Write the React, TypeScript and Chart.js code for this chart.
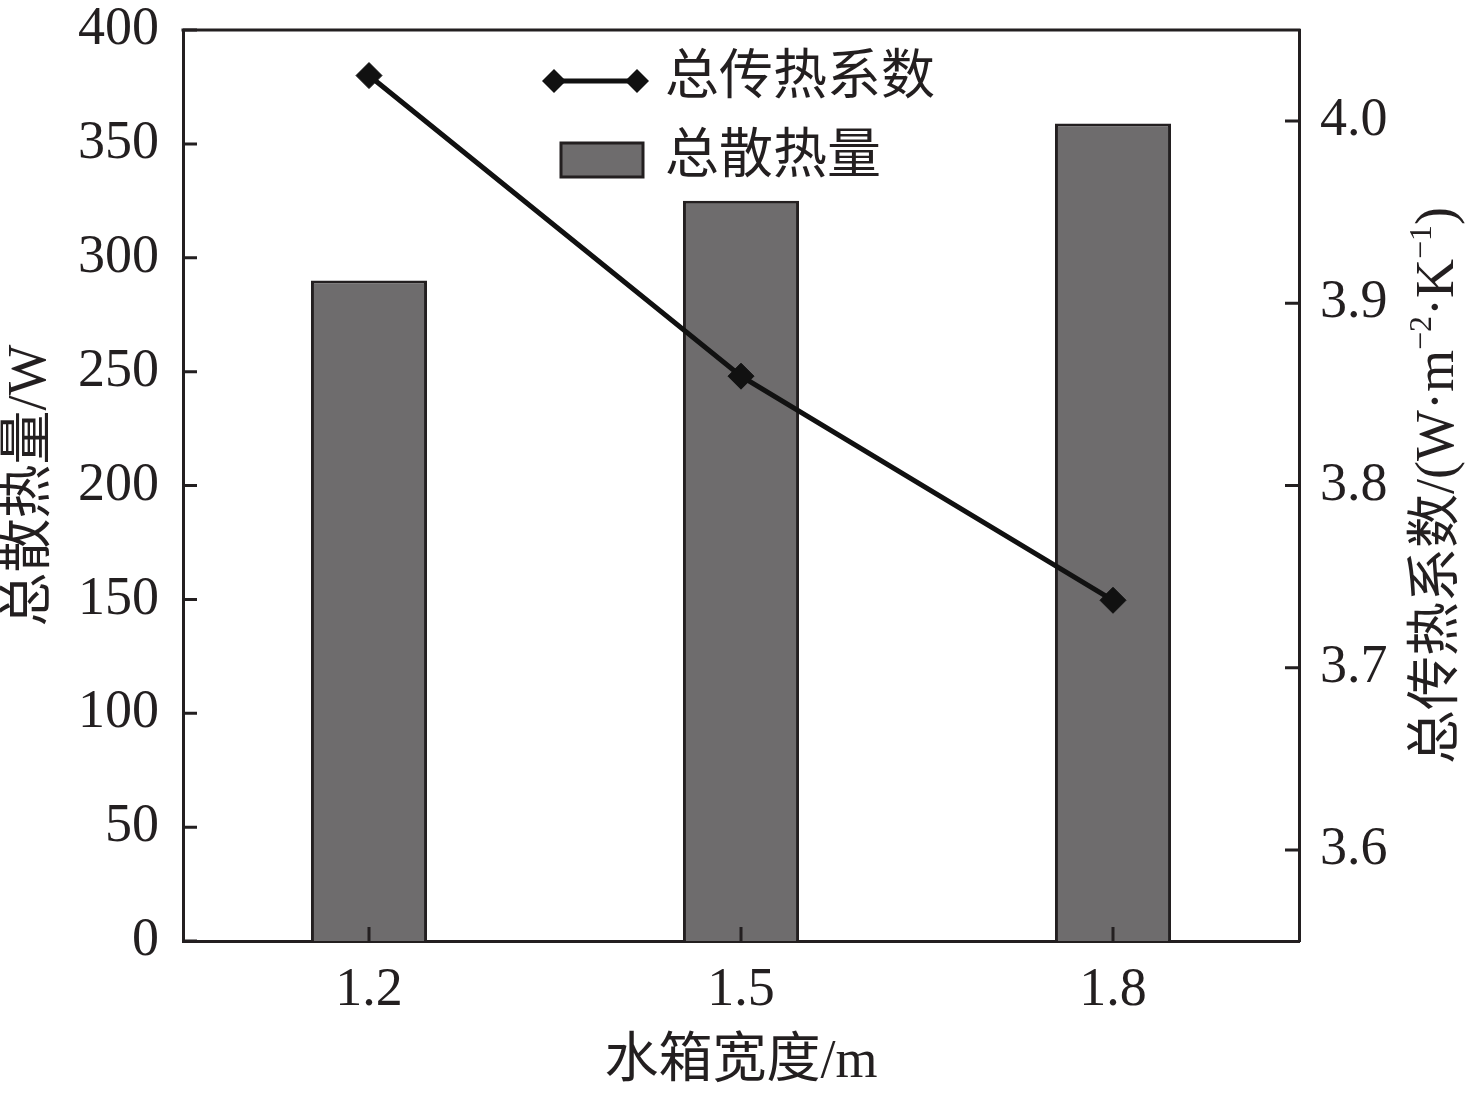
import React, { useEffect, useRef } from 'react';
import { Chart, registerables } from 'chart.js';

Chart.register(...registerables);

// données
const categories = ['1.2', '1.5', '1.8'];
const heatLoss = [290, 325, 359]; // 总散热量 (W)
const heatCoef = [4.025, 3.86, 3.737]; // 总传热系数
const leftTicks = [0, 50, 100, 150, 200, 250, 300, 350, 400];
const rightTicks = [3.6, 3.7, 3.8, 3.9, 4.0];

const FONT = '"Liberation Serif", "Noto Sans CJK SC", serif';
const INK = '#231f20';
const BAR = '#6e6c6d';

const drawDiamond = (ctx: CanvasRenderingContext2D, x: number, y: number, r: number) => {
    ctx.beginPath();
    ctx.moveTo(x, y - r);
    ctx.lineTo(x + r, y);
    ctx.lineTo(x, y + r);
    ctx.lineTo(x - r, y);
    ctx.closePath();
    ctx.fill();
};

const extrasPlugin = {
    id: 'extras',
    afterDraw(chart: any) {
        const ctx: CanvasRenderingContext2D = chart.ctx;
        const { left, right, top, bottom } = chart.chartArea;
        const x = chart.scales.x;
        const yL = chart.scales.yL;
        const yR = chart.scales.yR;
        ctx.save();
        ctx.strokeStyle = INK;
        ctx.lineWidth = 3;

        // cadre du haut
        ctx.beginPath();
        ctx.moveTo(left - 1.5, top);
        ctx.lineTo(right + 1.5, top);
        ctx.stroke();

        // graduations vers l'intérieur
        ctx.beginPath();
        leftTicks.forEach((v) => {
            const py = yL.getPixelForValue(v);
            ctx.moveTo(left, py);
            ctx.lineTo(left + 14, py);
        });
        rightTicks.forEach((v) => {
            const py = yR.getPixelForValue(v);
            ctx.moveTo(right, py);
            ctx.lineTo(right - 14, py);
        });
        categories.forEach((_, i) => {
            const px = x.getPixelForValue(i);
            ctx.moveTo(px, bottom);
            ctx.lineTo(px, bottom - 14);
        });
        ctx.stroke();

        // titres des axes
        ctx.fillStyle = INK;
        ctx.font = `54px ${FONT}`;
        ctx.textBaseline = 'middle';
        ctx.textAlign = 'center';
        ctx.fillText('水箱宽度/m', (left + right) / 2, 1063);

        ctx.save();
        ctx.translate(31, (top + bottom) / 2);
        ctx.rotate(-Math.PI / 2);
        ctx.fillText('总散热量/W', 0, 0);
        ctx.restore();

        // titre de droite avec exposants
        const parts: [string, boolean][] = [
            ['总传热系数/(W·m', false],
            ['−2', true],
            ['·K', false],
            ['−1', true],
            [')', false],
        ];
        const big = `54px ${FONT}`;
        const small = `32px ${FONT}`;
        let total = 0;
        parts.forEach(([t, sup]) => {
            ctx.font = sup ? small : big;
            total += ctx.measureText(t).width;
        });
        ctx.save();
        ctx.translate(1439, (top + bottom) / 2);
        ctx.rotate(-Math.PI / 2);
        ctx.textAlign = 'left';
        let cx = -total / 2;
        parts.forEach(([t, sup]) => {
            ctx.font = sup ? small : big;
            ctx.fillText(t, cx, sup ? -16 : 0);
            cx += ctx.measureText(t).width;
        });
        ctx.restore();

        // légende
        ctx.fillStyle = '#111';
        ctx.strokeStyle = '#111';
        ctx.lineWidth = 5;
        ctx.beginPath();
        ctx.moveTo(554, 81);
        ctx.lineTo(637, 81);
        ctx.stroke();
        drawDiamond(ctx, 554, 81, 12);
        drawDiamond(ctx, 637, 81, 12);

        ctx.fillStyle = BAR;
        ctx.fillRect(561, 143, 82, 34);
        ctx.strokeStyle = INK;
        ctx.lineWidth = 3;
        ctx.strokeRect(561, 143, 82, 34);

        ctx.fillStyle = INK;
        ctx.font = big;
        ctx.textAlign = 'left';
        ctx.fillText('总传热系数', 665, 80);
        ctx.fillText('总散热量', 665, 159);
        ctx.restore();
    },
};

const App: React.FC = () => {
    const canvasRef = useRef<HTMLCanvasElement | null>(null);
    const chartRef = useRef<Chart | null>(null);

    useEffect(() => {
        if (!canvasRef.current) return;
        if (chartRef.current) chartRef.current.destroy();

        const tickFont = { family: FONT, size: 54, lineHeight: 1 };

        chartRef.current = new Chart(canvasRef.current, {
            type: 'bar',
            data: {
                labels: categories,
                datasets: [
                    {
                        type: 'line',
                        label: '总传热系数',
                        data: heatCoef,
                        yAxisID: 'yR',
                        borderColor: '#111',
                        borderWidth: 5,
                        pointStyle: 'rectRot',
                        pointRadius: 13,
                        pointBackgroundColor: '#111',
                        pointBorderColor: '#111',
                        pointBorderWidth: 1,
                        tension: 0,
                        order: 1,
                    },
                    {
                        type: 'bar',
                        label: '总散热量',
                        data: heatLoss,
                        yAxisID: 'yL',
                        backgroundColor: BAR,
                        borderColor: INK,
                        borderWidth: 3,
                        barPercentage: 0.312,
                        categoryPercentage: 1,
                        order: 2,
                    },
                ] as any,
            },
            options: {
                responsive: false,
                animation: false,
                layout: { padding: { top: 30 } },
                plugins: {
                    legend: { display: false },
                    tooltip: { enabled: false },
                },
                scales: {
                    x: {
                        type: 'category',
                        offset: true,
                        grid: { display: false, drawTicks: false },
                        border: { display: true, color: INK, width: 3 },
                        ticks: { font: tickFont, color: INK, padding: 23, maxRotation: 0 },
                        afterFit: (s: any) => {
                            s.height = 155;
                            s.paddingLeft = 0;
                            s.paddingRight = 0;
                        },
                    },
                    yL: {
                        position: 'left',
                        min: 0,
                        max: 400,
                        grid: { display: false, drawTicks: false },
                        border: { display: true, color: INK, width: 3 },
                        ticks: { font: tickFont, color: INK, padding: 24 },
                        afterBuildTicks: (s: any) => { s.ticks = leftTicks.map((v) => ({ value: v })); },
                        afterFit: (s: any) => {
                            s.width = 183;
                            s.paddingTop = 0;
                            s.paddingBottom = 0;
                        },
                    },
                    yR: {
                        position: 'right',
                        min: 3.55,
                        max: 4.05,
                        grid: { display: false, drawTicks: false },
                        border: { display: true, color: INK, width: 3 },
                        ticks: {
                            font: tickFont,
                            color: INK,
                            padding: 21,
                            callback: (v: any) => Number(v).toFixed(1),
                        },
                        afterBuildTicks: (s: any) => { s.ticks = rightTicks.map((v) => ({ value: v })); },
                        afterFit: (s: any) => {
                            s.width = 177;
                            s.paddingTop = 0;
                            s.paddingBottom = 0;
                        },
                    },
                },
            } as any,
            plugins: [extrasPlugin],
        });

        return () => {
            if (chartRef.current) {
                chartRef.current.destroy();
                chartRef.current = null;
            }
        };
    }, []);

    return (
        <div style={{ position: 'absolute', left: 0, top: 0, width: 1476, height: 1096, background: '#fff' }}>
            <canvas ref={canvasRef} width={1476} height={1096}></canvas>
        </div>
    );
};

export default App;
